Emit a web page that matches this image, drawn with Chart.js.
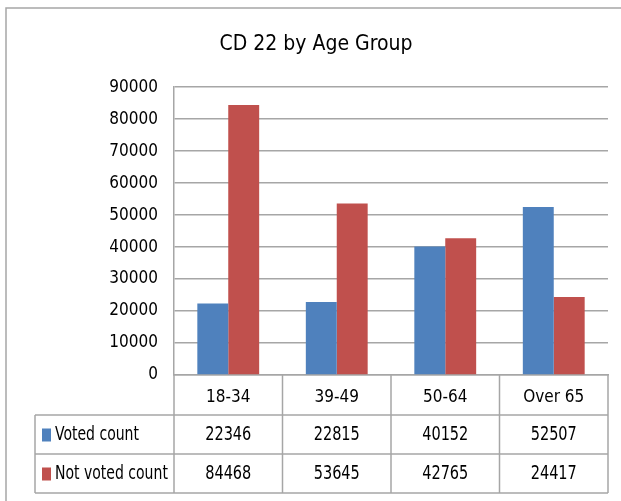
<!DOCTYPE html>
<html>
<head>
<meta charset="utf-8">
<script src="https://cdn.jsdelivr.net/npm/chart.js@4"></script>
<style>
  html, body { margin: 0; padding: 0; background: #fff; }
  #wrap { position: relative; width: 621px; height: 501px; }
</style>
</head>
<body>
<div id="wrap"><canvas id="chartAge"></canvas></div>
<script>
'use strict';

var ageGroups = ['18-34', '39-49', '50-64', 'Over 65'];
var votedCount = [22346, 22815, 40152, 52507];
var notVotedCount = [84468, 53645, 42765, 24417];
var seriesNames = ['Voted count', 'Not voted count'];
var seriesColors = ['#4F81BD', '#C0504D'];

var FONT = '"DejaVu Sans Condensed", "Liberation Sans", sans-serif';
var LINE = '#a6a6a6';

Chart.defaults.font.family = FONT;
Chart.defaults.color = '#000';

// outer frame of the chart object
var framePlugin = {
  id: 'frame',
  beforeDraw: function(chart) {
    var ctx = chart.ctx;
    ctx.save();
    ctx.fillStyle = '#fff';
    ctx.fillRect(0, 0, chart.width, chart.height);
    ctx.strokeStyle = LINE;
    ctx.lineWidth = 1.5;
    ctx.beginPath();
    ctx.moveTo(6, chart.height);
    ctx.lineTo(6, 8);
    ctx.lineTo(chart.width, 8);
    ctx.stroke();
    ctx.restore();
  }
};

// text squeezed sideways, like the narrow font of the original
function narrowText(ctx, text, x, y, squeeze) {
  ctx.save();
  ctx.translate(x, y);
  ctx.scale(squeeze, 1);
  ctx.fillText(text, 0, 0);
  ctx.restore();
}

// data table under the x axis
var tablePlugin = {
  id: 'dataTable',
  afterDraw: function(chart) {
    var ctx = chart.ctx;
    var x = chart.scales.x;
    var area = chart.chartArea;
    var rows = [votedCount, notVotedCount];
    var rowH = 39;
    var top = x.bottom;
    var tableLeft = 35;
    var colW = (area.right - area.left) / ageGroups.length;

    ctx.save();
    ctx.strokeStyle = LINE;
    ctx.lineWidth = 1.5;
    ctx.beginPath();
    for (var r = 0; r <= rows.length; r++) {
      var y = top + r * rowH;
      ctx.moveTo(tableLeft, y);
      ctx.lineTo(area.right, y);
    }
    ctx.moveTo(tableLeft, top);
    ctx.lineTo(tableLeft, top + rows.length * rowH);
    for (var c = 0; c <= ageGroups.length; c++) {
      var cx = area.left + c * colW;
      ctx.moveTo(cx, area.bottom);
      ctx.lineTo(cx, top + rows.length * rowH);
    }
    ctx.stroke();

    ctx.font = '19px ' + FONT;
    ctx.textBaseline = 'middle';
    rows.forEach(function(vals, i) {
      var cy = top + i * rowH + rowH / 2 + 1;
      ctx.fillStyle = seriesColors[i];
      ctx.fillRect(42, cy - 7, 9, 13);
      ctx.fillStyle = '#000';
      ctx.textAlign = 'left';
      narrowText(ctx, seriesNames[i], 55, cy, 0.82);
      ctx.textAlign = 'center';
      vals.forEach(function(v, j) {
        narrowText(ctx, String(v), x.getPixelForValue(j), cy, 0.85);
      });
    });
    ctx.restore();
  }
};

new Chart(document.getElementById('chartAge'), {
  type: 'bar',
  data: {
    labels: ageGroups,
    datasets: [
      { label: seriesNames[0], data: votedCount, backgroundColor: seriesColors[0] },
      { label: seriesNames[1], data: notVotedCount, backgroundColor: seriesColors[1] }
    ]
  },
  options: {
    responsive: true,
    maintainAspectRatio: false,
    animation: false,
    layout: { padding: { left: 24, right: 13, top: 0, bottom: 86 } },
    datasets: {
      bar: { categoryPercentage: 0.57, barPercentage: 1.0, borderWidth: 0 }
    },
    plugins: {
      legend: { display: false },
      tooltip: { enabled: false },
      title: {
        display: true,
        text: 'CD 22 by Age Group',
        color: '#000',
        font: { size: 21, weight: 'normal' },
        padding: { top: 32, bottom: 30 }
      }
    },
    scales: {
      x: {
        grid: { display: false },
        border: { display: true, color: LINE, width: 1.5 },
        ticks: { padding: 4, font: { size: 17 }, color: '#000' },
        afterFit: function(scale) { scale.height = 40; }
      },
      y: {
        min: 0,
        max: 90000,
        grid: { color: LINE, lineWidth: 1.5, drawTicks: false },
        border: { display: true, color: LINE, width: 1.5 },
        ticks: {
          stepSize: 10000,
          padding: 16,
          font: { size: 17 },
          color: '#000',
          callback: function(v) { return String(v); }
        },
        afterFit: function(scale) { scale.width = 150; }
      }
    }
  },
  plugins: [framePlugin, tablePlugin]
});
</script>
</body>
</html>
